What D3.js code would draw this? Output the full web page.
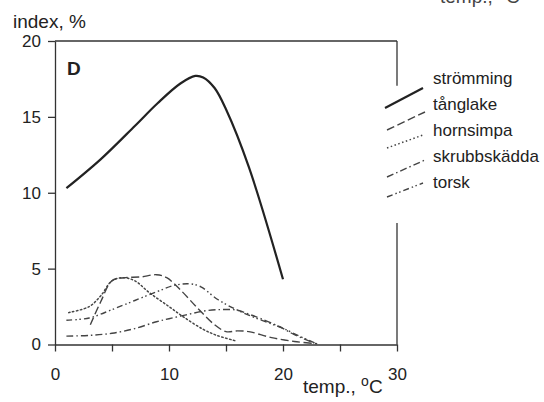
<!DOCTYPE html>
<html>
<head>
<meta charset="utf-8">
<script src="https://cdn.jsdelivr.net/npm/d3@7"></script>
<style>
  body { margin: 0; background: #fff; }
  svg { display: block; font-family: "Liberation Sans", Arial, sans-serif; }
  .axis path, .axis line { stroke: #333; stroke-width: 1.3; }
  .axis text { font-size: 17px; fill: #222; }
</style>
</head>
<body>
<svg id="chart" width="544" height="402"></svg>
<script>
// species names (legend order)
const species = ["strömming", "tånglake", "hornsimpa", "skrubbskädda", "torsk"];

// [temp °C, index %]
const stromming = [[1, 10.3], [4, 12.2], [7, 14.4], [9, 15.9], [11, 17.2], [12.3, 17.7], [13, 17.6], [14, 16.9], [15, 15.5], [17, 11.7], [20, 4.3]];
const tanglake = [[3.1, 1.3], [4, 2.8], [5, 4.2], [6, 4.4], [7.5, 4.45], [8.9, 4.6], [9.8, 4.4], [11, 3.6], [12.5, 2.4], [14, 1.3], [15, 0.85], [16, 0.9], [17, 0.85], [19, 0.45], [21, 0.2], [23, 0.05]];
const hornsimpa = [[1.2, 2.1], [3, 2.5], [4, 3.2], [5, 4.2], [6, 4.4], [7, 4.2], [8.3, 3.4], [10, 2.5], [11.3, 1.8], [13, 1.0], [14.2, 0.6], [15.8, 0.25]];
const skrubbskadda = [[1, 0.55], [3, 0.6], [5, 0.74], [7, 1.05], [8.9, 1.5], [10, 1.7], [11.5, 1.95], [13, 2.2], [14.5, 2.3], [15.9, 2.27], [17, 2.0], [18, 1.72], [19.7, 1.17], [21, 0.65], [22.7, 0.1]];
const torsk = [[1, 1.6], [3, 1.75], [5, 2.3], [7, 2.9], [9, 3.5], [10.5, 3.9], [11.8, 4.0], [12.8, 3.8], [14.2, 3.0], [15.5, 2.45], [17.1, 1.9], [19, 1.35], [20, 1.07], [21.3, 0.6], [22.8, 0.1]];

const xTicks = [0, 5, 10, 15, 20, 25, 30];
const xTickLabels = [0, 10, 20, 30];
const yTicks = [0, 5, 10, 15, 20];

const seriesList = [stromming, tanglake, hornsimpa, skrubbskadda, torsk];
const dashes = [null, "8,3.5", "1.5,2.5", "7,3,1.5,3", "6,3,1.5,2.5,1.5,3"];
const widths = [2.2, 1.4, 1.5, 1.4, 1.4];
const colors = ["#222", "#444", "#444", "#444", "#444"];

const svg = d3.select("#chart");

const x = d3.scaleLinear().domain([0, 30]).range([55, 397]);
const y = d3.scaleLinear().domain([0, 20]).range([344.5, 41]);

// frame: top line and the broken right edge
svg.append("line")
  .attr("x1", x(0)).attr("x2", x(30))
  .attr("y1", y(20)).attr("y2", y(20))
  .attr("stroke", "#333").attr("stroke-width", 1.3);
svg.append("line")
  .attr("x1", x(30)).attr("x2", x(30))
  .attr("y1", y(20)).attr("y2", y(17.05))
  .attr("stroke", "#333").attr("stroke-width", 1.3);
svg.append("line")
  .attr("x1", x(30)).attr("x2", x(30))
  .attr("y1", y(8.0)).attr("y2", y(0))
  .attr("stroke", "#333").attr("stroke-width", 1.3);

// x axis
const xAxis = svg.append("g")
  .attr("class", "axis")
  .attr("transform", `translate(0,${y(0)})`)
  .call(d3.axisBottom(x).tickValues(xTicks).tickSize(7).tickSizeOuter(0)
    .tickFormat(d => xTickLabels.includes(d) ? d : ""));
xAxis.selectAll("text").attr("y", 23).attr("dy", "0.71em");

// y axis
const yAxis = svg.append("g")
  .attr("class", "axis")
  .attr("transform", `translate(${x(0)},0)`)
  .call(d3.axisLeft(y).tickValues(yTicks).tickSize(7).tickSizeOuter(0));
yAxis.selectAll("text").attr("x", -14);

// axis titles
svg.append("text")
  .attr("x", 13).attr("y", 28)
  .attr("font-size", 19).attr("fill", "#222")
  .text("index, %");

const xt = svg.append("text")
  .attr("x", 303).attr("y", 393)
  .attr("font-size", 19).attr("fill", "#222");
xt.append("tspan").text("temp., ");
xt.append("tspan").attr("dy", -7).attr("font-size", 14).text("o");
xt.append("tspan").attr("dy", 7).text("C");

// fragment of the panel above, cut off at the top edge
const frag = svg.append("text")
  .attr("x", 440).attr("y", 3)
  .attr("font-size", 19).attr("fill", "#444");
frag.append("tspan").text("temp., ");
frag.append("tspan").attr("dy", -7).attr("font-size", 14).text("o");
frag.append("tspan").attr("dy", 7).text("C");

// panel letter
svg.append("text")
  .attr("x", 67).attr("y", 75)
  .attr("font-size", 19).attr("font-weight", "bold").attr("fill", "#222")
  .text("D");

// curves
const line = d3.line()
  .x(d => x(d[0]))
  .y(d => y(d[1]))
  .curve(d3.curveCatmullRom.alpha(0.5));

seriesList.forEach((s, i) => {
  svg.append("path")
    .datum(s)
    .attr("fill", "none")
    .attr("stroke", colors[i])
    .attr("stroke-width", widths[i])
    .attr("stroke-dasharray", dashes[i])
    .attr("stroke-linecap", i === 2 ? "round" : "butt")
    .attr("d", line);
});

// legend: slanted sample strokes left of each name
const legendX = 433;
const legendBase = 84;
const legendStep = 26;
const sampleGeom = [[385, 24, 423, 4], [387, 20, 425, 2], [387, 12, 423, -1], [387, 15, 425, -2], [387, 9, 423, -5]];

species.forEach((name, i) => {
  const b = legendBase + i * legendStep;
  const g = sampleGeom[i];
  svg.append("line")
    .attr("x1", g[0]).attr("y1", b + g[1])
    .attr("x2", g[2]).attr("y2", b + g[3])
    .attr("stroke", colors[i])
    .attr("stroke-width", widths[i])
    .attr("stroke-dasharray", dashes[i]);
  svg.append("text")
    .attr("x", legendX).attr("y", b)
    .attr("font-size", 17).attr("fill", "#222")
    .text(name);
});
</script>
</body>
</html>
